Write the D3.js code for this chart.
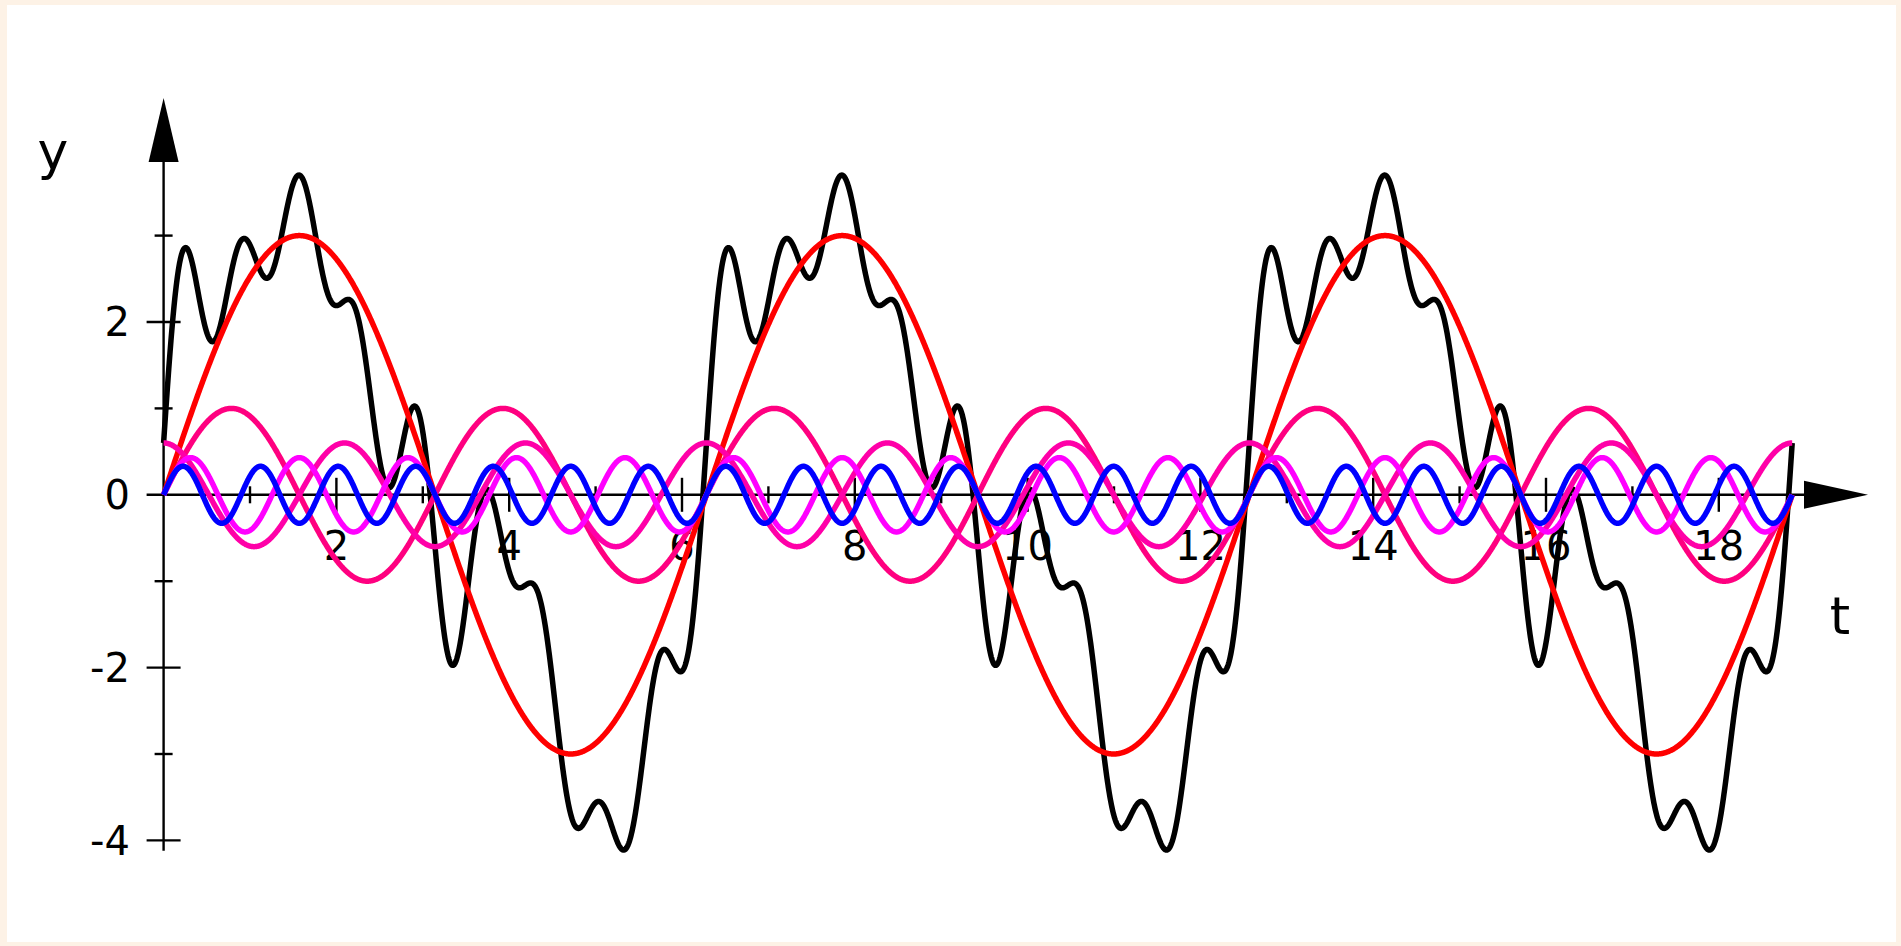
<!DOCTYPE html>
<html>
<head>
<meta charset="utf-8">
<script src="https://cdn.jsdelivr.net/npm/d3@7"></script>
<style>
  body { margin: 0; background: #fdf2e6; }
  text { font-family: "DejaVu Sans", sans-serif; fill: #000; }
</style>
</head>
<body>
<svg id="chart" width="1901" height="946"></svg>
<script>
// harmonics drawn as coloured curves (amplitude, angular frequency, phase in degrees)
var harmAmp   = [3, 1, 0.6, 0.43, 0.33];
var harmFreq  = [1, 2, 3, 5, 7];
var harmPhase = [0, 0, 90, 0, 0];
var harmColor = ['#ff0000', '#ff0080', '#ff00a8', '#ff00ff', '#0000ff'];

// the black sum curve also holds one term that has no curve of its own
var extraAmp   = [0.6];
var extraFreq  = [9];
var extraPhase = [0];

var xTickValues = d3.range(1, 19);
var xTickLabels = [2, 4, 6, 8, 10, 12, 14, 16, 18];
var yTickValues = [-4, -3, -2, -1, 1, 2, 3];
var yTickLabels = [-4, -2, 0, 2];
var tEnd = 6 * Math.PI;

var svg = d3.select('#chart');
svg.append('rect').attr('x', 7).attr('y', 5).attr('width', 1889).attr('height', 937).attr('fill', '#fff');

var x = d3.scaleLinear().domain([0, 1]).range([163.6, 250.0]);
var y = d3.scaleLinear().domain([0, 1]).range([494.8, 408.4]);

var ts = d3.range(0, tEnd, 0.005).concat([tEnd]);
var rad = Math.PI / 180;

var term = function(a, w, p){ return t => a * Math.sin(w * t + p * rad); };
var comps = harmAmp.map((a, i) => term(a, harmFreq[i], harmPhase[i]));
var extras = extraAmp.map((a, i) => term(a, extraFreq[i], extraPhase[i]));
var total = t => comps.concat(extras).reduce((s, f) => s + f(t), 0);

var line = d3.line().x(d => x(d[0])).y(d => y(d[1]));

// axes
var ax = svg.append('g').attr('stroke', '#000').attr('stroke-width', 2.4);
ax.append('line').attr('x1', x(0) - 17).attr('x2', 1806).attr('y1', y(0)).attr('y2', y(0));
ax.append('line').attr('x1', x(0)).attr('x2', x(0)).attr('y1', y(-4.12)).attr('y2', 160);

svg.append('path')
	.attr('d', 'M' + 1804 + ',' + (y(0) - 14) + 'L1868,' + y(0) + 'L1804,' + (y(0) + 14) + 'Z');
svg.append('path')
	.attr('d', 'M' + (x(0) - 15) + ',162L' + x(0) + ',98L' + (x(0) + 15) + ',162Z');

ax.selectAll('.xt')
	.data(xTickValues)
	.enter()
	.append('line')
	.attr('x1', d => x(d)).attr('x2', d => x(d))
	.attr('y1', d => y(0) - (d % 2 ? 8.5 : 17))
	.attr('y2', d => y(0) + (d % 2 ? 8.5 : 17));

ax.selectAll('.yt')
	.data(yTickValues)
	.enter()
	.append('line')
	.attr('y1', d => y(d)).attr('y2', d => y(d))
	.attr('x1', d => x(0) - (d % 2 ? 9 : 17))
	.attr('x2', d => x(0) + (d % 2 ? 9 : 17));

svg.selectAll('.xl')
	.data(xTickLabels)
	.enter()
	.append('text')
	.attr('x', d => x(d))
	.attr('y', 560)
	.attr('text-anchor', 'middle')
	.style('font-size', '40px')
	.text(d => d);

svg.selectAll('.yl')
	.data(yTickLabels)
	.enter()
	.append('text')
	.attr('x', 130)
	.attr('y', d => y(d))
	.attr('dy', '0.36em')
	.attr('text-anchor', 'end')
	.style('font-size', '40px')
	.text(d => d);

svg.append('text').attr('x', 53).attr('y', 169).attr('text-anchor', 'middle').style('font-size', '52px').text('y');
svg.append('text').attr('x', 1840).attr('y', 634).attr('text-anchor', 'middle').style('font-size', '52px').text('t');

// curves: sum first, then harmonics on top
svg.append('path')
	.attr('d', line(ts.map(t => [t, total(t)])))
	.attr('fill', 'none')
	.attr('stroke', '#000')
	.attr('stroke-width', 5.5)
	.attr('stroke-linejoin', 'round');

comps.forEach(function(f, i){
	svg.append('path')
		.attr('d', line(ts.map(t => [t, f(t)])))
		.attr('fill', 'none')
		.attr('stroke', harmColor[i])
		.attr('stroke-width', 5.5)
		.attr('stroke-linejoin', 'round');
});
</script>
</body>
</html>
